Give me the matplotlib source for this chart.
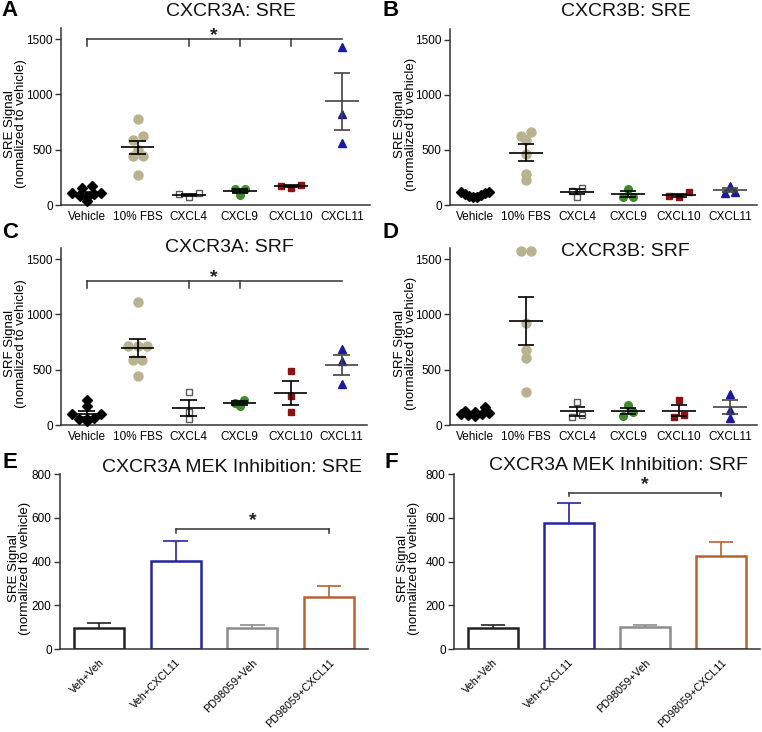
import numpy as np
import matplotlib
matplotlib.use('Agg')
import matplotlib.pyplot as plt

plt.rcParams['font.family'] = ['Liberation Sans', 'DejaVu Sans']

W, H = 762, 732

# ---------------- data ----------------
categories = ['Vehicle', '10% FBS', 'CXCL4', 'CXCL9', 'CXCL10', 'CXCL11']

# Panel A: CXCR3A SRE
a_vehicle = [170, 155, 110, 105, 100, 80, 75, 40]
a_fbs = [780, 620, 590, 500, 440, 440, 270]
a_cxcl4 = [70, 95, 105]
a_cxcl9 = [145, 90, 145]
a_cxcl10 = [175, 155, 180]
a_cxcl11 = [1430, 820, 560]

# Panel B: CXCR3B SRE
b_vehicle = [120, 115, 110, 100, 95, 85, 75, 70]
b_fbs = [665, 625, 595, 460, 280, 225]
b_cxcl4 = [155, 130, 75]
b_cxcl9 = [150, 70, 70]
b_cxcl10 = [115, 80, 70]
b_cxcl11 = [175, 120, 110]

# Panel C: CXCR3A SRF
c_vehicle = [225, 170, 100, 95, 60, 55, 50, 35]
c_fbs = [1110, 715, 715, 715, 590, 590, 445]
c_cxcl4 = [300, 115, 55]
c_cxcl9 = [230, 195, 175]
c_cxcl10 = [490, 262, 120]
c_cxcl11 = [685, 575, 370]

# Panel D: CXCR3B SRF
d_vehicle = [160, 130, 115, 105, 100, 95, 90, 85]
d_fbs = [1575, 1575, 925, 680, 605, 295]
d_cxcl4 = [210, 90, 70]
d_cxcl9 = [180, 115, 80]
d_cxcl10 = [225, 90, 75]
d_cxcl11 = [280, 135, 65]

# Panels E/F: MEK inhibition bars
bar_labels = ['Veh+Veh', 'Veh+CXCL11', 'PD98059+Veh', 'PD98059+CXCL11']
e_mean = [98, 403, 98, 236]
e_sem = [20, 92, 10, 53]
f_mean = [97, 575, 100, 426]
f_sem = [14, 94, 8, 61]

# ---------------- styles ----------------
cat_style = [
    dict(marker='D', ms=4.6, mfc='black', mec='black'),
    dict(marker='o', ms=6.5, mfc='#b9b290', mec='#b9b290'),
    dict(marker='s', ms=5.0, mfc='white', mec='#5a5a5a', mew=1.0),
    dict(marker='o', ms=5.5, mfc='#3f8a2b', mec='#3f8a2b'),
    dict(marker='s', ms=5.0, mfc='#8a1212', mec='#8a1212'),
    dict(marker='^', ms=5.5, mfc='#1a1a9e', mec='#1a1a9e'),
]
bar_colors = ['#222222', '#2424a2', '#8c8c8c', '#b5642e']

fig = plt.figure(figsize=(W / 100, H / 100), dpi=100)


def make_ax(left, right, top, bottom):
    ax = fig.add_axes([left / W, 1 - bottom / H, (right - left) / W, (bottom - top) / H])
    for s in ['top', 'right']:
        ax.spines[s].set_visible(False)
    for s in ['left', 'bottom']:
        ax.spines[s].set_color('#333333')
        ax.spines[s].set_linewidth(1.1)
    ax.tick_params(axis='y', length=4, width=1, color='#333333', labelsize=8.5, pad=2)
    ax.tick_params(axis='x', length=0, labelsize=8.5, pad=4)
    return ax


def swarm_offsets(vals, px_per_x, px_per_y, spacing, maxw):
    order = np.argsort(vals)[::-1]
    offs = np.zeros(len(vals))
    rows = []
    cur = []
    for i in order:
        y = vals[i] * px_per_y
        if cur and abs(vals[cur[0]] * px_per_y - y) >= 6:
            rows.append(cur)
            cur = []
        cur.append(i)
    if cur:
        rows.append(cur)
    for r in rows:
        n = len(r)
        if n == 1:
            continue
        sp = min(spacing / px_per_x, maxw / (n - 1))
        r_sorted = sorted(r, key=lambda k: vals[k])
        slots = sorted([(j - (n - 1) / 2) * sp for j in range(n)], key=lambda s: (abs(s), s))
        for i, s in zip(r_sorted, slots):
            offs[i] = s
    return offs


def scatter_panel(ax, groups, xlim, px_x, px_y, ylabel):
    ax.set_xlim(*xlim)
    ax.set_ylim(0, 1600)
    ax.set_yticks([0, 500, 1000, 1500])
    ax.set_xticks(range(len(categories)))
    ax.set_xticklabels(categories)
    for i, vals in enumerate(groups):
        vals = np.array(vals, dtype=float)
        st = cat_style[i]
        offs = swarm_offsets(vals, px_x, px_y, 10.0, 0.55)
        ax.plot(i + offs, vals, ls='none', zorder=3, clip_on=False, **st)
        m = vals.mean()
        se = vals.std(ddof=1) / np.sqrt(len(vals))
        col = '#444444' if i == 5 else 'black'
        ax.hlines(m, i - 0.33, i + 0.33, color=col, lw=1.2, zorder=4)
        ax.hlines([m - se, m + se], i - 0.16, i + 0.16, color=col, lw=1.2, zorder=4)
        ax.vlines(i, m - se, m + se, color=col, lw=1.2, zorder=4)
    ax.set_ylabel(ylabel, fontsize=9.5, linespacing=0.88)


def bracket(ax, x0, x1, y, drops, drop_len, star_y, color='#333333'):
    ax.plot([x0, x1], [y, y], color=color, lw=1.1, clip_on=False)
    for d in drops:
        ax.plot([d, d], [y, y - drop_len], color=color, lw=1.1, clip_on=False)
    ax.text((x0 + x1) / 2, star_y, '*', ha='center', va='center', fontsize=14,
            fontweight='bold', color='#222222')


# Panel A
axA = make_ax(61, 370, 28, 205)
scatter_panel(axA, [a_vehicle, a_fbs, a_cxcl4, a_cxcl9, a_cxcl10, a_cxcl11],
              (-0.5, 5.55), 51.4, 0.1105, 'SRE Signal\n(nomalized to vehicle)')
bracket(axA, 0, 5, 1500, [0, 2, 3, 4], 65, 1530)

# Panel B
axB = make_ax(450, 757, 29, 205)
scatter_panel(axB, [b_vehicle, b_fbs, b_cxcl4, b_cxcl9, b_cxcl10, b_cxcl11],
              (-0.49, 5.53), 51.0, 0.11, 'SRE Signal\n(normalized to vehicle)')

# Panel C
axC = make_ax(61, 367, 248, 425)
scatter_panel(axC, [c_vehicle, c_fbs, c_cxcl4, c_cxcl9, c_cxcl10, c_cxcl11],
              (-0.5, 5.5), 51.4, 0.1105, 'SRF Signal\n(nomalized to vehicle)')
bracket(axC, 0, 5, 1304, [0, 2, 3], 65, 1335)

# Panel D
axD = make_ax(450, 757, 248, 425)
scatter_panel(axD, [d_vehicle, d_fbs, d_cxcl4, d_cxcl9, d_cxcl10, d_cxcl11],
              (-0.49, 5.53), 51.0, 0.11, 'SRF Signal\n(normalized to vehicle)')


def bar_panel(ax, means, sems, ylabel):
    x = np.arange(len(bar_labels))
    ax.set_xlim(-0.51, 3.51)
    ax.set_ylim(0, 800)
    ax.set_yticks([0, 200, 400, 600, 800])
    for i in x:
        ax.bar(i, means[i], width=0.65, facecolor='white', edgecolor=bar_colors[i],
               linewidth=1.8, zorder=2)
        ax.vlines(i, means[i], means[i] + sems[i], color=bar_colors[i], lw=1.2, zorder=1)
        ax.hlines(means[i] + sems[i], i - 0.16, i + 0.16, color=bar_colors[i], lw=1.2)
    ax.set_xticks(x)
    ax.set_xticklabels(bar_labels, rotation=45, ha='right', rotation_mode='anchor')
    ax.tick_params(axis='x', pad=6, labelsize=7.8)
    ax.set_ylabel(ylabel, fontsize=9.5, linespacing=0.88)


axE = make_ax(60, 368, 474, 649)
bar_panel(axE, e_mean, e_sem, 'SRE Signal\n(normalized to vehicle)')
bracket(axE, 1, 3, 547, [1, 3], 15, 585)

axF = make_ax(454, 760, 474, 649)
bar_panel(axF, f_mean, f_sem, 'SRF Signal\n(normalized to vehicle)')
bracket(axF, 1, 3, 715, [1, 3], 15, 750)

for ax, xl in [(axA, -0.11), (axB, -0.108), (axC, -0.11), (axD, -0.108),
               (axE, -0.094), (axF, -0.11)]:
    ax.yaxis.set_label_coords(xl, 0.46)

# titles
titles = [('CXCR3A: SRE', 231, 12), ('CXCR3B: SRE', 626, 12),
          ('CXCR3A: SRF', 229, 248), ('CXCR3B: SRF', 625, 252),
          ('CXCR3A MEK Inhibition: SRE', 232, 467), ('CXCR3A MEK Inhibition: SRF', 618, 465)]
for t, x, y in titles:
    fig.text(x / W, 1 - y / H, t, ha='center', va='center', fontsize=14, color='#111111')

letters = [('A', 10, 11), ('B', 391, 11), ('C', 10, 233), ('D', 391, 233), ('E', 10, 462), ('F', 391, 462)]
for t, x, y in letters:
    fig.text(x / W, 1 - y / H, t, ha='center', va='center', fontsize=16, fontweight='bold')

fig.savefig('out.png', dpi=100)
